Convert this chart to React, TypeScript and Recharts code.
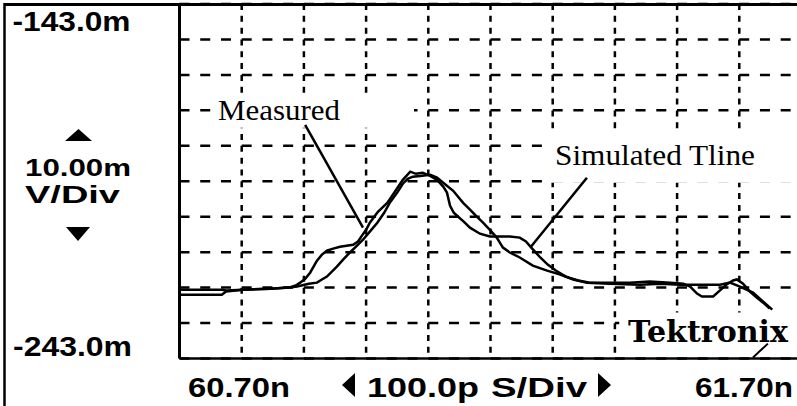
import React from 'react';
import { LineChart, Line, XAxis, YAxis, CartesianGrid, ReferenceArea, ReferenceLine } from 'recharts';

// time in ns, voltage in mV
const measuredTime = [
  60.701, 60.733, 60.768, 60.775, 60.802, 60.846, 60.876, 60.887, 60.894, 60.902,
  60.910, 60.921, 60.929, 60.937, 60.947, 60.958, 60.979, 60.987, 60.993, 61.000,
  61.006, 61.019, 61.034, 61.046, 61.059, 61.071, 61.080, 61.091, 61.103, 61.114,
  61.124, 61.130, 61.135, 61.141, 61.148, 61.157, 61.167, 61.183, 61.199, 61.215,
  61.231, 61.247, 61.257, 61.267, 61.280, 61.292, 61.305, 61.321, 61.341, 61.360,
  61.392, 61.424, 61.456, 61.489, 61.510, 61.521, 61.532, 61.540, 61.558, 61.569,
  61.579, 61.590, 61.596, 61.606, 61.617, 61.628, 61.640, 61.649,
];
const measuredVolt = [
  -223.6, -223.6, -223.6, -223.8, -223.6, -223.3, -223.0, -222.4, -221.6, -220.5,
  -218.8, -215.4, -213.7, -212.6, -212.0, -211.5, -210.9, -210.0, -208.4, -206.7,
  -204.7, -201.6, -199.1, -196.0, -192.6, -190.3, -190.9, -190.6, -191.5, -192.6,
  -194.5, -196.2, -199.9, -201.9, -203.0, -204.4, -206.1, -207.8, -208.6, -208.6,
  -208.6, -208.9, -210.0, -212.0, -214.5, -216.5, -218.2, -219.9, -221.0, -221.6,
  -221.6, -221.6, -221.3, -221.6, -221.9, -222.7, -224.7, -225.5, -225.5, -223.8,
  -222.2, -221.0, -220.7, -221.9, -224.1, -225.8, -227.5, -228.9,
];
const simTime = [
  60.701, 60.733, 60.768, 60.775, 60.802, 60.846, 60.876, 60.889, 60.908, 60.921,
  60.929, 60.937, 60.945, 60.953, 60.963, 60.974, 60.985, 60.995, 61.006, 61.018,
  61.029, 61.038, 61.050, 61.059, 61.067, 61.075, 61.087, 61.103, 61.114, 61.124,
  61.140, 61.156, 61.167, 61.178, 61.188, 61.199, 61.210, 61.220, 61.231, 61.247,
  61.268, 61.291, 61.312, 61.333, 61.355, 61.392, 61.440, 61.473, 61.505, 61.532,
  61.569, 61.585, 61.601, 61.622, 61.638, 61.653,
];
const simVolt = [
  -225.0, -225.0, -225.0, -224.1, -223.6, -223.3, -223.0, -222.7, -221.9, -221.6,
  -220.7, -219.9, -218.5, -217.1, -215.1, -213.1, -211.2, -209.5, -207.2, -204.7,
  -201.9, -199.1, -196.2, -193.7, -192.3, -191.7, -191.5, -191.2, -192.0, -193.4,
  -195.7, -199.1, -201.0, -203.0, -204.7, -206.7, -208.9, -211.7, -213.1, -214.5,
  -216.8, -218.2, -219.3, -220.7, -221.6, -221.9, -222.2, -221.9, -222.2, -222.2,
  -222.2, -221.6, -222.7, -224.4, -226.9, -229.2,
];

const timeTicks = [60.7, 60.8, 60.9, 61.0, 61.1, 61.2, 61.3, 61.4, 61.5, 61.6, 61.7];
const voltTicks = [-243, -233, -223, -213, -203, -193, -183, -173, -163, -153, -143];

const yTopLabel = '-143.0m';
const yBottomLabel = '-243.0m';
const xLeftLabel = '60.70n';
const xRightLabel = '61.70n';
const voltScale = ['10.00m', 'V/Div'];
const timeScale = ['100.0p', 'S/Div'];
const seriesNames = ['Measured', 'Simulated Tline'];
const brand = 'Tektronix';

const measuredData = measuredTime.map((t, i) => ({ t, v: measuredVolt[i] }));
const simData = simTime.map((t, i) => ({ t, v: simVolt[i] }));

const T0 = timeTicks[0];
const T1 = timeTicks[timeTicks.length - 1];
const V0 = voltTicks[0];
const V1 = voltTicks[voltTicks.length - 1];

const sans: React.CSSProperties = { fontFamily: '"Liberation Sans", Arial, sans-serif', fontWeight: 700 };
const serif: React.CSSProperties = { fontFamily: '"Liberation Serif", "Times New Roman", serif' };

const hGen = (p: any) => {
  const sc = p?.yAxis?.scale;
  if (typeof sc === 'function') return voltTicks.map((v) => sc(v));
  const o = p.offset;
  return voltTicks.map((v) => o.top + ((V1 - v) / (V1 - V0)) * o.height);
};
const vGen = (p: any) => {
  const sc = p?.xAxis?.scale;
  if (typeof sc === 'function') return timeTicks.map((t) => sc(t));
  const o = p.offset;
  return timeTicks.map((t) => o.left + ((t - T0) / (T1 - T0)) * o.width);
};

export default function App() {
  return (
    <div style={{ position: 'absolute', left: 0, top: 0, width: 797, height: 406, overflow: 'hidden', background: '#fff' }}>
      <LineChart
        width={830}
        height={406}
        margin={{ top: 4, left: 179.5, right: 28.5, bottom: 47.5 }}
        style={{ position: 'absolute', left: 0, top: 0 }}
      >
        <XAxis type="number" dataKey="t" domain={[T0, T1]} ticks={timeTicks} allowDataOverflow hide />
        <YAxis type="number" domain={[V0, V1]} ticks={voltTicks} allowDataOverflow hide />
        <CartesianGrid
          vertical={false}
          horizontalCoordinatesGenerator={hGen}
          stroke="#000"
          strokeWidth={2.5}
          strokeDasharray="10 10.73"
        />
        <CartesianGrid
          horizontal={false}
          verticalCoordinatesGenerator={vGen}
          stroke="#000"
          strokeWidth={2.5}
          strokeDasharray="6 5.82"
        />
        <ReferenceArea x1={60.754} x2={61.077} y1={-168.6} y2={-177.9} fill="#fff" fillOpacity={1} stroke="none" ifOverflow="visible" />
        <ReferenceArea x1={61.292} x2={61.7} y1={-179.4} y2={-193.4} fill="#fff" fillOpacity={1} stroke="none" ifOverflow="visible" />
        <ReferenceArea x1={61.407} x2={61.7} y1={-230.0} y2={-242.2} fill="#fff" fillOpacity={1} stroke="none" ifOverflow="visible" />
        <ReferenceLine x={T0} stroke="#000" strokeWidth={3} ifOverflow="visible" />
        <ReferenceLine y={V0} stroke="#000" strokeWidth={2.5} ifOverflow="visible" />
        <Line data={measuredData} dataKey="v" name={seriesNames[0]} type="linear" stroke="#000" strokeWidth={2.5} dot={false} isAnimationActive={false} />
        <Line data={simData} dataKey="v" name={seriesNames[1]} type="linear" stroke="#000" strokeWidth={2.5} dot={false} isAnimationActive={false} />
        <ReferenceLine segment={[{ x: 60.902, y: -177.1 }, { x: 60.995, y: -206.1 }]} stroke="#000" strokeWidth={2.5} ifOverflow="visible" />
        <ReferenceLine segment={[{ x: 61.355, y: -192.0 }, { x: 61.264, y: -211.7 }]} stroke="#000" strokeWidth={2.5} ifOverflow="visible" />
        <ReferenceLine segment={[{ x: 61.622, y: -242.7 }, { x: 61.646, y: -238.8 }]} stroke="#000" strokeWidth={2} ifOverflow="visible" />
      </LineChart>
      <svg width={797} height={406} style={{ position: 'absolute', left: 0, top: 0, pointerEvents: 'none' }}>
        <line x1={4} y1={4.5} x2={797} y2={4.5} stroke="#000" strokeWidth={3} />
        <line x1={4.5} y1={3} x2={4.5} y2={406} stroke="#000" strokeWidth={2.5} />
        <g style={sans} fill="#000">
          <text x={12.5} y={30.5} fontSize={27} textLength={118} lengthAdjust="spacingAndGlyphs">{yTopLabel}</text>
          <text x={13} y={356} fontSize={27} textLength={119} lengthAdjust="spacingAndGlyphs">{yBottomLabel}</text>
          <text x={25} y={176} fontSize={24} textLength={106} lengthAdjust="spacingAndGlyphs">{voltScale[0]}</text>
          <text x={25} y={203} fontSize={24} textLength={95} lengthAdjust="spacingAndGlyphs">{voltScale[1]}</text>
          <polygon points="65,141 78.5,129 92,141" />
          <polygon points="66,227 90,227 78,241" />
          <text x={188} y={397} fontSize={27} textLength={102} lengthAdjust="spacingAndGlyphs">{xLeftLabel}</text>
          <polygon points="355,373 355,397 342,385" />
          <text x={367} y={397} fontSize={27} textLength={112} lengthAdjust="spacingAndGlyphs">{timeScale[0]}</text>
          <text x={491} y={397} fontSize={27} textLength={96} lengthAdjust="spacingAndGlyphs">{timeScale[1]}</text>
          <polygon points="598,373 598,397 611,385" />
          <text x={695} y={397} fontSize={27} textLength={98} lengthAdjust="spacingAndGlyphs">{xRightLabel}</text>
        </g>
        <g style={serif} fill="#000">
          <text x={218} y={120} fontSize={29} textLength={122} lengthAdjust="spacingAndGlyphs">{seriesNames[0]}</text>
          <text x={555} y={165} fontSize={30} textLength={200} lengthAdjust="spacingAndGlyphs">{seriesNames[1]}</text>
          <text x={628} y={342} fontSize={30} fontWeight={700} fontFamily='"DejaVu Serif", serif' textLength={160} lengthAdjust="spacingAndGlyphs">{brand}</text>
        </g>
      </svg>
    </div>
  );
}
